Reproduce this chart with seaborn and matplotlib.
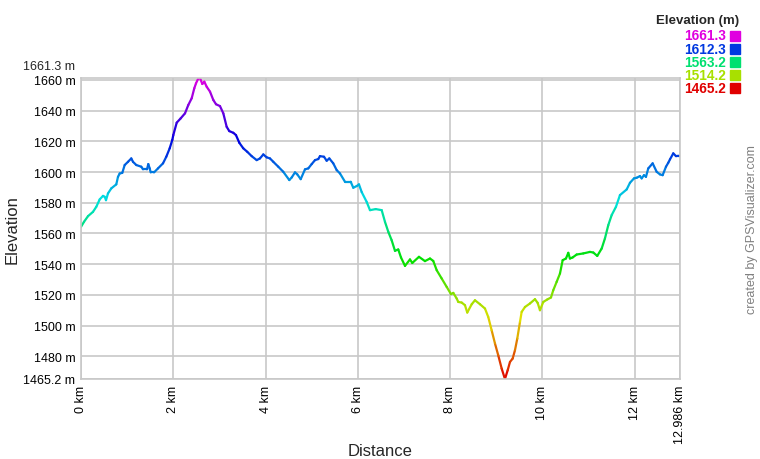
import numpy as np
import pandas as pd
import matplotlib
matplotlib.use('Agg')
import matplotlib.pyplot as plt
from matplotlib.colors import ListedColormap, hsv_to_rgb
from matplotlib.patches import Rectangle
import seaborn as sns

# profile: distance (km) and elevation (m)
distance_km = [
    0.0, 0.065, 0.152, 0.26, 0.332, 0.405, 0.477, 0.514, 0.542, 0.585, 0.657, 0.765,
    0.802, 0.839, 0.895, 0.947, 1.019, 1.09, 1.127, 1.199, 1.307, 1.344, 1.431, 1.459,
    1.489, 1.511, 1.583, 1.669, 1.778, 1.849, 1.923, 1.979, 2.001, 2.075, 2.161, 2.255,
    2.326, 2.4, 2.456, 2.493, 2.543, 2.58, 2.63, 2.673, 2.725, 2.797, 2.868, 2.927,
    3.013, 3.085, 3.158, 3.215, 3.302, 3.36, 3.432, 3.518, 3.605, 3.7, 3.809, 3.88,
    3.952, 4.026, 4.097, 4.169, 4.277, 4.385, 4.516, 4.568, 4.639, 4.689, 4.763, 4.856,
    4.927, 5.001, 5.073, 5.144, 5.181, 5.268, 5.326, 5.383, 5.469, 5.543, 5.615, 5.723,
    5.847, 5.903, 5.977, 6.026, 6.085, 6.193, 6.265, 6.389, 6.519, 6.59, 6.662, 6.735,
    6.807, 6.878, 6.937, 7.024, 7.132, 7.182, 7.327, 7.457, 7.566, 7.637, 7.711, 7.819,
    7.928, 8.021, 8.071, 8.145, 8.179, 8.253, 8.324, 8.374, 8.47, 8.541, 8.65, 8.758,
    8.829, 8.903, 8.975, 9.046, 9.12, 9.191, 9.25, 9.3, 9.358, 9.408, 9.458, 9.517,
    9.553, 9.625, 9.733, 9.842, 9.9, 9.95, 10.022, 10.108, 10.189, 10.238, 10.312, 10.384,
    10.442, 10.514, 10.564, 10.6, 10.659, 10.746, 10.889, 11.034, 11.106, 11.192, 11.288, 11.359,
    11.431, 11.505, 11.598, 11.684, 11.83, 11.901, 11.988, 12.046, 12.118, 12.155, 12.205, 12.248,
    12.298, 12.393, 12.48, 12.552, 12.61, 12.682, 12.732, 12.769, 12.84, 12.899, 12.949, 12.986,
]
elevation_m = [
    1564.3, 1567.6, 1571.3, 1574.1, 1577.4, 1582.2, 1584.5, 1583.9, 1581.7, 1586.1, 1589.4, 1592.0,
    1596.9, 1599.1, 1599.5, 1604.6, 1606.7, 1608.9, 1606.7, 1604.6, 1603.5, 1601.8, 1601.8, 1605.2,
    1602.4, 1599.8, 1599.8, 1602.4, 1605.7, 1610.0, 1615.5, 1620.9, 1624.1, 1632.2, 1635.0, 1638.3,
    1643.7, 1648.1, 1654.6, 1657.8, 1661.0, 1661.3, 1657.4, 1658.9, 1655.6, 1652.4, 1647.0, 1644.2,
    1643.0, 1638.3, 1629.5, 1626.7, 1625.6, 1624.1, 1619.1, 1615.5, 1613.2, 1610.4, 1607.8, 1608.9,
    1611.5, 1609.6, 1608.9, 1606.7, 1603.5, 1600.2, 1594.8, 1596.5, 1599.8, 1598.5, 1595.4, 1601.8,
    1602.4, 1605.2, 1607.8, 1608.5, 1610.4, 1610.0, 1607.4, 1608.9, 1605.7, 1601.3, 1599.1, 1593.7,
    1593.7, 1589.8, 1590.9, 1592.0, 1587.0, 1580.6, 1575.2, 1575.9, 1575.2, 1567.6, 1561.1, 1555.6,
    1548.7, 1549.6, 1544.4, 1538.9, 1543.1, 1540.8, 1544.8, 1542.0, 1543.7, 1542.1, 1536.1, 1530.7,
    1525.2, 1520.5, 1521.3, 1517.6, 1515.4, 1515.0, 1513.3, 1508.5, 1513.9, 1516.5, 1513.9, 1511.1,
    1505.6, 1496.9, 1488.3, 1480.6, 1472.0, 1465.2, 1470.9, 1476.3, 1478.5, 1483.9, 1491.5, 1502.4,
    1508.9, 1512.1, 1514.4, 1517.2, 1514.8, 1510.0, 1515.4, 1517.0, 1518.3, 1523.0, 1528.5, 1533.9,
    1542.6, 1543.7, 1547.4, 1543.7, 1544.4, 1546.3, 1547.0, 1548.0, 1547.6, 1545.4, 1550.2, 1556.8,
    1565.4, 1572.0, 1577.4, 1585.0, 1588.7, 1593.0, 1595.9, 1596.3, 1597.4, 1595.9, 1598.0, 1596.9,
    1602.4, 1605.7, 1600.2, 1598.5, 1598.0, 1603.5, 1606.1, 1608.3, 1612.2, 1610.4, 1610.6, 1610.6,
]

elev_min = 1465.2
elev_max = 1661.3
total_km = 12.986
x_ticks = [0, 2, 4, 6, 8, 10, 12, total_km]
x_labels = ['0 km', '2 km', '4 km', '6 km', '8 km', '10 km', '12 km', '12.986 km']
y_ticks = [1465.2, 1480, 1500, 1520, 1540, 1560, 1580, 1600, 1620, 1640, 1660]
legend_values = [1661.3, 1612.3, 1563.2, 1514.2, 1465.2]

sns.set_style('white')
plt.rcParams['font.family'] = ['Liberation Sans', 'DejaVu Sans']

# red -> yellow -> green -> cyan -> blue -> magenta, like the site's gradient
hues = np.linspace(0, 300, 121) / 360.0
cmap = ListedColormap([hsv_to_rgb((h, 1.0, 0.88)) for h in hues])

def elev_color(v):
    return cmap((v - elev_min) / (elev_max - elev_min))

# one short segment per pair of points so each can carry its own colour
rows = []
for i in range(len(distance_km) - 1):
    mid = (elevation_m[i] + elevation_m[i + 1]) / 2
    for j in (i, i + 1):
        rows.append({'km': distance_km[j], 'elev': elevation_m[j], 'seg': i, 'level': mid})
df = pd.DataFrame(rows)

fig = plt.figure(figsize=(7.6, 4.6), dpi=100)
ax = fig.add_axes([81 / 760, 1 - 380 / 460, (680 - 81) / 760, (380 - 79) / 460])

sns.lineplot(data=df, x='km', y='elev', hue='level', units='seg', estimator=None,
             palette=cmap, hue_norm=(elev_min, elev_max), legend=False, sort=False,
             linewidth=1.6, solid_capstyle='round', ax=ax)

ax.set_xlim(0, total_km)
ax.set_ylim(elev_min, elev_max)
ax.set_xticks(x_ticks)
ax.set_xticklabels(x_labels, rotation=90, va='top', ha='center')
ax.set_yticks(y_ticks)
ax.set_yticklabels([f'{v:g} m' for v in y_ticks])
ax.tick_params(length=0, labelsize=9, pad=4, colors='black')
ax.grid(True, color='#c8c8c8', linewidth=1.2)
ax.set_axisbelow(True)
for s in ax.spines.values():
    s.set_color('#c8c8c8')
    s.set_linewidth(1.2)
ax.set_xlabel('')
ax.set_ylabel('')

# the top value sits just above the 1660 label
ax.annotate(f'{elev_max:g} m', xy=(0, elev_max), xycoords=('axes fraction', 'data'),
            xytext=(-4, 4.5), textcoords='offset points', ha='right', va='bottom', fontsize=9)

fig.text(12 / 760, 1 - 230 / 460, 'Elevation', rotation=90, ha='center', va='center', fontsize=12)
fig.text(380 / 760, 1 - 452 / 460, 'Distance', ha='center', va='center', fontsize=12)

# colour key in the top right corner
fig.text(739 / 760, 1 - 21 / 460, 'Elevation (m)', ha='right', va='center',
         fontsize=9.5, fontweight='bold')
for k, v in enumerate(legend_values):
    yc = 36.5 + k * 13.1
    fig.text(726 / 760, 1 - yc / 460, f'{v:.1f}', ha='right', va='center',
             fontsize=9.8, fontweight='bold', color=elev_color(v))
    fig.patches.append(Rectangle((730 / 760, 1 - (yc + 5) / 460), 10 / 760, 10 / 460,
                                 transform=fig.transFigure, color=elev_color(v)))

fig.text(752 / 760, 1 - 230 / 460, 'created by GPSVisualizer.com', rotation=90,
         ha='center', va='center', fontsize=9, color='#808080')

fig.savefig('out.png', dpi=100)
